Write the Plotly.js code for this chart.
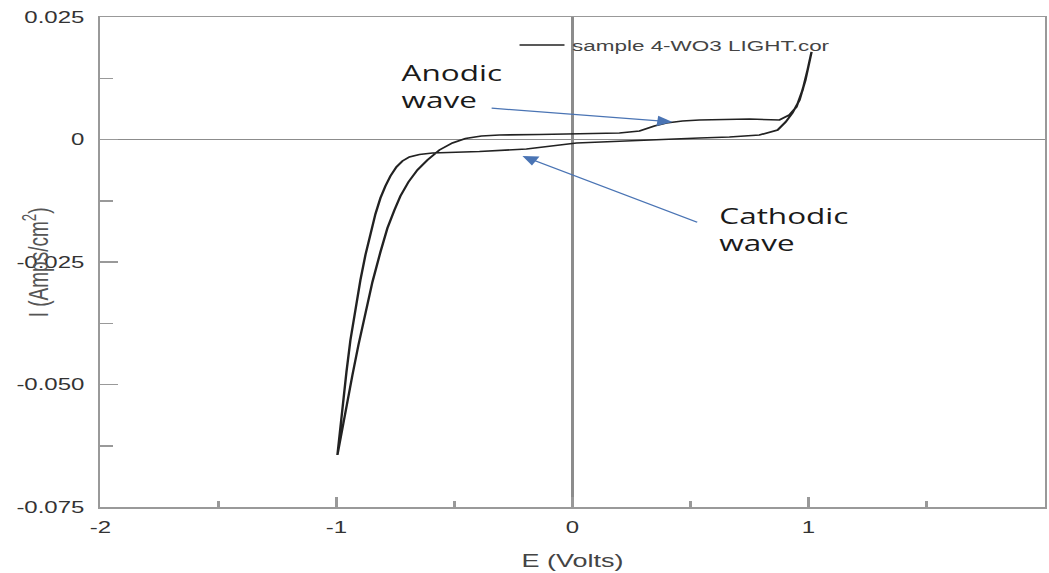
<!DOCTYPE html>
<html>
<head>
<meta charset="utf-8">
<script src="https://cdn.plot.ly/plotly-3.0.1.min.js"></script>
<style>
  html, body { margin: 0; padding: 0; background: #fff; overflow: hidden; }
  #wrap { width: 1049px; height: 573px; overflow: hidden; }
  /* the chart is laid out narrow and widened horizontally, giving the wide lettering */
  #chart { width: 700px; height: 573px; transform: scaleX(1.4986); transform-origin: 0 0; }
</style>
</head>
<body>
<div id="wrap"><div id="chart"></div></div>
<script>
// Forward (anodic) sweep, -1 V to +1 V
const anodicE = [-0.9958, -0.9788, -0.9576, -0.9322, -0.9068, -0.8771, -0.8475, -0.8136, -0.7839, -0.7542,
                 -0.7288, -0.6949, -0.6568, -0.6144, -0.5636, -0.5085, -0.4534, -0.3856, -0.3093, -0.140,
                 0.000, 0.199, 0.284, 0.347, 0.398, 0.466, 0.538, 0.750, 0.877, 0.919,
                 0.949, 0.975, 0.996, 1.013];
const anodicI = [-0.06439, -0.05969, -0.05418, -0.04806, -0.04194, -0.03541, -0.02908, -0.02296, -0.01806, -0.01439,
                 -0.01153, -0.00867, -0.00622, -0.00418, -0.00214, -0.00071, 0.00020, 0.00071, 0.00092, 0.00102,
                 0.00112, 0.00133, 0.00173, 0.00276, 0.00337, 0.00378, 0.00398, 0.00418, 0.00398, 0.00500,
                 0.00663, 0.01010, 0.01418, 0.01786];

// Reverse (cathodic) sweep, +1 V back to -1 V
const cathodicE = [1.013, 0.987, 0.962, 0.932, 0.903, 0.869, 0.792, 0.665, 0.538, 0.326,
                   0.114, 0.017, -0.195, -0.394, -0.5932, -0.6483, -0.6907, -0.7203, -0.7458, -0.7712,
                   -0.7924, -0.8136, -0.8347, -0.8559, -0.8771, -0.8983, -0.9195, -0.9407, -0.9576, -0.9746,
                   -0.9873, -0.9958];
const cathodicI = [0.01786, 0.01214, 0.00806, 0.00541, 0.00357, 0.00194, 0.00092, 0.00051, 0.00031, -0.00010,
                   -0.00051, -0.00071, -0.00194, -0.00245, -0.00276, -0.00306, -0.00357, -0.00439, -0.00561, -0.00745,
                   -0.00949, -0.01194, -0.01520, -0.01908, -0.02357, -0.02867, -0.03439, -0.04092, -0.04745, -0.05418,
                   -0.05969, -0.06439];

const seriesName = 'sample 4-WO3 LIGHT.cor';

const xTickVals = [-2, -1, 0, 1, 2];
const xTickText = ['-2', '-1', '0', '1', '2'];
const xMinorVals = [-1.5, -0.5, 0.5, 1.5];
const yTickVals = [0.025, 0, -0.025, -0.05, -0.075];
const yTickText = ['0.025', '0', '-0.025', '-0.050', '-0.075'];
const yMinorVals = [0.0125, -0.0125, -0.0375, -0.0625];

const axisGrey = '#999999';
const labelGrey = '#333333';
const arrowBlue = '#4a74b4';

const trace = {
  x: anodicE.concat(cathodicE),
  y: anodicI.concat(cathodicI),
  type: 'scatter',
  mode: 'lines',
  name: seriesName,
  line: { color: '#222222', width: 1.6 }
};

const layout = {
  width: 700,
  height: 573,
  margin: { l: 67, r: 3, t: 17, b: 66 },
  paper_bgcolor: '#ffffff',
  plot_bgcolor: '#ffffff',
  font: { family: 'Liberation Sans, Arial, sans-serif', color: labelGrey },
  showlegend: true,
  legend: {
    x: 0.436, xanchor: 'left', y: 0.976, yanchor: 'top',
    bgcolor: 'rgba(0,0,0,0)', borderwidth: 0,
    font: { size: 15, color: '#444444' }
  },
  xaxis: {
    range: [-2, 2],
    tickmode: 'array', tickvals: xTickVals, ticktext: xTickText,
    ticks: 'inside', ticklen: 10, tickwidth: 1.5, tickcolor: axisGrey,
    ticklabelstandoff: 5,
    tickfont: { size: 16, color: labelGrey },
    minor: { tickmode: 'array', tickvals: xMinorVals, ticks: 'inside', ticklen: 6, tickwidth: 1.5, tickcolor: axisGrey, showgrid: false },
    showline: true, mirror: true, linecolor: axisGrey, linewidth: 1.5,
    zeroline: true, zerolinecolor: '#8c8c8c', zerolinewidth: 1.5,
    showgrid: false,
    title: { text: 'E (Volts)', font: { size: 18, color: '#444444' }, standoff: 19 }
  },
  yaxis: {
    range: [-0.075, 0.025],
    tickmode: 'array', tickvals: yTickVals, ticktext: yTickText,
    ticks: 'inside', ticklen: 12, tickwidth: 1.5, tickcolor: axisGrey,
    ticklabelstandoff: 6,
    tickfont: { size: 16, color: labelGrey },
    minor: { tickmode: 'array', tickvals: yMinorVals, ticks: 'inside', ticklen: 8.5, tickwidth: 1.5, tickcolor: axisGrey, showgrid: false },
    showline: true, mirror: true, linecolor: axisGrey, linewidth: 1.5,
    zeroline: true, zerolinecolor: '#8c8c8c', zerolinewidth: 1.5,
    showgrid: false
  },
  annotations: [
    // vertical axis title, sitting over the tick labels
    {
      xref: 'paper', yref: 'y', x: 0, y: -0.025, xshift: -42.7,
      xanchor: 'center', yanchor: 'middle', textangle: -90, showarrow: false,
      text: 'I (Amps/cm<sup>2</sup>)',
      font: { size: 19, color: '#555555' }
    },
    {
      xref: 'x', yref: 'y', x: -0.735, y: 0.0108,
      xanchor: 'left', yanchor: 'middle', align: 'left', showarrow: false,
      text: 'Anodic<br>wave',
      font: { family: 'Open Sans, sans-serif', size: 21, color: '#1a1a1a' }
    },
    {
      xref: 'x', yref: 'y', x: 0.608, y: -0.01827,
      xanchor: 'left', yanchor: 'middle', align: 'left', showarrow: false,
      text: 'Cathodic<br>wave',
      font: { family: 'Open Sans, sans-serif', size: 21, color: '#1a1a1a' }
    },
    {
      xref: 'x', yref: 'y', axref: 'x', ayref: 'y',
      x: 0.424, y: 0.00357, ax: -0.352, ay: 0.00643,
      text: '', showarrow: true, arrowhead: 2, arrowsize: 1.7, arrowwidth: 1.2,
      arrowcolor: arrowBlue, standoff: 0, startstandoff: 0
    },
    {
      xref: 'x', yref: 'y', axref: 'x', ayref: 'y',
      x: -0.212, y: -0.00337, ax: 0.538, ay: -0.01704,
      text: '', showarrow: true, arrowhead: 2, arrowsize: 1.7, arrowwidth: 1.2,
      arrowcolor: arrowBlue, standoff: 0, startstandoff: 0
    }
  ]
};

Plotly.newPlot('chart', [trace], layout, { displayModeBar: false, staticPlot: true });
</script>
</body>
</html>
